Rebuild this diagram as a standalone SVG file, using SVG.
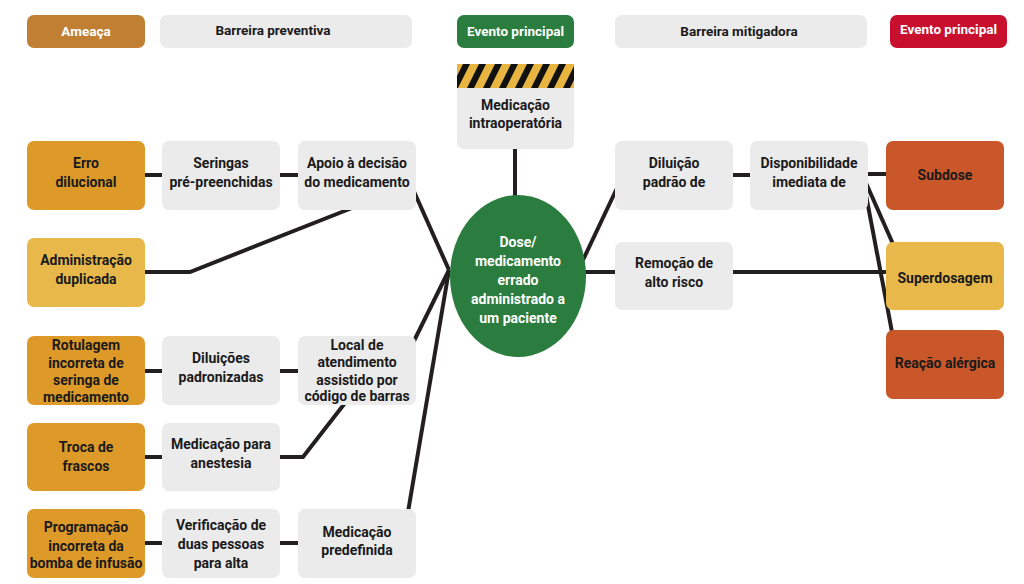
<svg xmlns="http://www.w3.org/2000/svg" width="1024" height="584" viewBox="0 0 1024 584">
  <style>
    text { font-family: Roboto, "Liberation Sans", Arial, sans-serif; font-weight: 700; font-size: 14px; text-anchor: middle; fill: #1a1a1a; }
    .w { fill: #ffffff; }
    .hd { font-weight: 700; font-size: 13.5px; }
    .grey { fill: #ebebeb; }
    .thr { fill: #de9a29; }
    .thr2 { fill: #e8b94a; }
    .con { fill: #c9572a; }
    .ln { fill: none; stroke: #231f20; stroke-width: 4; stroke-linejoin: miter; }
  </style>
  <defs>
    <clipPath id="stripeClip">
      <rect x="457" y="64" width="117" height="24"/>
    </clipPath>
  </defs>
  <rect width="1024" height="584" fill="#ffffff"/>

  <g id="connectors">
    <path class="ln" d="M140,175 H166"/>
    <path class="ln" d="M276,175 H302"/>
    <path class="ln" d="M140,272 H190 L352,208"/>
    <path class="ln" d="M412,187 L449,270"/>
    <path class="ln" d="M449,270 L412,345"/>
    <path class="ln" d="M449,270 L408,512"/>
    <path class="ln" d="M140,371 H166"/>
    <path class="ln" d="M276,371 H302"/>
    <path class="ln" d="M140,457 H166"/>
    <path class="ln" d="M276,457 H303 L345,403"/>
    <path class="ln" d="M140,543 H166"/>
    <path class="ln" d="M276,543 H302"/>
    <path class="ln" d="M515,145 V200"/>
    <path class="ln" d="M580,272 H620"/>
    <path class="ln" d="M728,272 H890"/>
    <path class="ln" d="M583,260 L618,186"/>
    <path class="ln" d="M728,175 H755"/>
    <path class="ln" d="M862,174 H890"/>
    <path class="ln" d="M866,183 L893,244"/>
    <path class="ln" d="M866,195 L892,332"/>
  </g>

  <g id="header-ameaca">
    <rect x="27" y="15" width="118" height="33" rx="7" fill="#c17f33"/>
    <text class="w hd" x="86" y="36">Ameaça</text>
  </g>
  <g id="header-barreira-preventiva">
    <rect class="grey" x="160" y="15" width="252" height="33" rx="7"/>
    <text class="hd" x="273" y="35">Barreira preventiva</text>
  </g>
  <g id="header-evento-verde">
    <rect x="457" y="15" width="117" height="33" rx="7" fill="#2a7d3e"/>
    <text class="w hd" x="515.5" y="36">Evento principal</text>
  </g>
  <g id="header-barreira-mitigadora">
    <rect class="grey" x="615" y="15" width="252" height="33" rx="7"/>
    <text class="hd" x="739" y="36">Barreira mitigadora</text>
  </g>
  <g id="header-evento-vermelho">
    <rect x="890" y="15" width="117" height="33" rx="7" fill="#c8102e"/>
    <text class="w hd" x="948.5" y="34">Evento principal</text>
  </g>

  <g id="perigo">
    <rect class="grey" x="457" y="64" width="117" height="85" rx="7"/>
    <rect x="457" y="64" width="117" height="24" fill="#e8b540"/>
    <g clip-path="url(#stripeClip)" fill="#111111">
      <polygon points="451,88 458,88 470,64 463,64"/>
      <polygon points="467,88 474,88 486,64 479,64"/>
      <polygon points="483,88 490,88 502,64 495,64"/>
      <polygon points="499,88 506,88 518,64 511,64"/>
      <polygon points="515,88 522,88 534,64 527,64"/>
      <polygon points="531,88 538,88 550,64 543,64"/>
      <polygon points="547,88 554,88 566,64 559,64"/>
      <polygon points="563,88 570,88 582,64 575,64"/>
    </g>
    <text x="515.5" y="110">Medicação</text>
    <text x="515.5" y="128">intraoperatória</text>
  </g>

  <g id="evento-central">
    <ellipse cx="518" cy="276" rx="68" ry="81" fill="#2a7d3e"/>
    <text class="w" x="518" y="247">Dose/</text>
    <text class="w" x="518" y="266">medicamento</text>
    <text class="w" x="518" y="285">errado</text>
    <text class="w" x="518" y="304">administrado a</text>
    <text class="w" x="518" y="323">um paciente</text>
  </g>

  <g id="erro-dilucional">
    <rect class="thr" x="27" y="141" width="118" height="69" rx="7"/>
    <text x="86" y="168">Erro</text>
    <text x="86" y="187">dilucional</text>
  </g>
  <g id="seringas">
    <rect class="grey" x="162" y="141" width="118" height="69" rx="7"/>
    <text x="221" y="168">Seringas</text>
    <text x="221" y="187">pré-preenchidas</text>
  </g>
  <g id="apoio-decisao">
    <rect class="grey" x="298" y="141" width="118" height="69" rx="7"/>
    <text x="357" y="168">Apoio à decisão</text>
    <text x="357" y="187">do medicamento</text>
  </g>
  <g id="administracao-duplicada">
    <rect class="thr2" x="27" y="238" width="118" height="69" rx="7"/>
    <text x="86" y="265">Administração</text>
    <text x="86" y="284">duplicada</text>
  </g>
  <g id="rotulagem">
    <rect class="thr" x="27" y="336" width="118" height="69" rx="7"/>
    <text x="86" y="350">Rotulagem</text>
    <text x="86" y="368">incorreta de</text>
    <text x="86" y="385">seringa de</text>
    <text x="86" y="402">medicamento</text>
  </g>
  <g id="diluicoes">
    <rect class="grey" x="162" y="336" width="118" height="69" rx="7"/>
    <text x="221" y="363">Diluições</text>
    <text x="221" y="382">padronizadas</text>
  </g>
  <g id="local-atendimento">
    <rect class="grey" x="298" y="336" width="118" height="69" rx="7"/>
    <text x="357" y="350">Local de</text>
    <text x="357" y="367">atendimento</text>
    <text x="357" y="385">assistido por</text>
    <text x="357" y="401">código de barras</text>
  </g>
  <g id="troca-frascos">
    <rect class="thr" x="27" y="423" width="118" height="68" rx="7"/>
    <text x="86" y="452">Troca de</text>
    <text x="86" y="471">frascos</text>
  </g>
  <g id="medicacao-anestesia">
    <rect class="grey" x="162" y="423" width="118" height="68" rx="7"/>
    <text x="221" y="449">Medicação para</text>
    <text x="221" y="468">anestesia</text>
  </g>
  <g id="programacao">
    <rect class="thr" x="27" y="509" width="118" height="69" rx="7"/>
    <text x="86" y="532">Programação</text>
    <text x="86" y="551">incorreta da</text>
    <text x="86" y="568">bomba de infusão</text>
  </g>
  <g id="verificacao">
    <rect class="grey" x="162" y="509" width="118" height="69" rx="7"/>
    <text x="221" y="530">Verificação de</text>
    <text x="221" y="549">duas pessoas</text>
    <text x="221" y="568">para alta</text>
  </g>
  <g id="medicacao-predefinida">
    <rect class="grey" x="298" y="509" width="118" height="69" rx="7"/>
    <text x="357" y="537">Medicação</text>
    <text x="357" y="555">predefinida</text>
  </g>

  <g id="diluicao-padrao">
    <rect class="grey" x="615" y="141" width="118" height="69" rx="7"/>
    <text x="674" y="168">Diluição</text>
    <text x="674" y="187">padrão de</text>
  </g>
  <g id="disponibilidade">
    <rect class="grey" x="750" y="141" width="118" height="69" rx="7"/>
    <text x="809" y="168">Disponibilidade</text>
    <text x="809" y="187">imediata de</text>
  </g>
  <g id="remocao">
    <rect class="grey" x="615" y="242" width="118" height="68" rx="7"/>
    <text x="674" y="268">Remoção de</text>
    <text x="674" y="287">alto risco</text>
  </g>
  <g id="subdose">
    <rect class="con" x="886" y="141" width="118" height="69" rx="7"/>
    <text x="945" y="180">Subdose</text>
  </g>
  <g id="superdosagem">
    <rect class="thr2" x="886" y="242" width="118" height="68" rx="7"/>
    <text x="945" y="283">Superdosagem</text>
  </g>
  <g id="reacao-alergica">
    <rect class="con" x="886" y="330" width="118" height="69" rx="7"/>
    <text x="945" y="368">Reação alérgica</text>
  </g>
</svg>
